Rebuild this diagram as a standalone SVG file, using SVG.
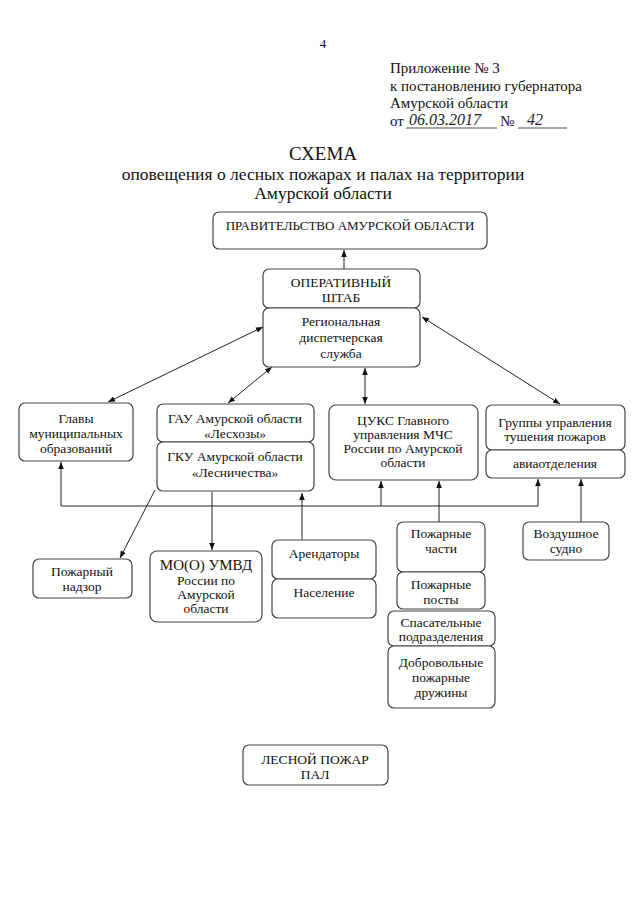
<svg xmlns="http://www.w3.org/2000/svg" width="640" height="905" viewBox="0 0 640 905">
<defs>
<marker id="ah" viewBox="0 0 10 10" refX="10" refY="5" markerWidth="7" markerHeight="7" orient="auto-start-reverse" markerUnits="userSpaceOnUse">
<path d="M0,1 L10,5 L0,9 z" fill="#111"/>
</marker>
<style>
.bx{fill:#fff;stroke:#444;stroke-width:1.2}
.t{font-family:"Liberation Serif","Times New Roman",serif;font-size:13.5px;fill:#111;text-anchor:middle}
.h{font-family:"Liberation Serif","Times New Roman",serif;font-size:15px;fill:#111}
.hw{font-family:"Liberation Serif",serif;font-style:italic;font-size:16px;fill:#222}
.ln{fill:none;stroke:#222;stroke-width:1}
.ar{fill:none;stroke:#222;stroke-width:1;marker-end:url(#ah)}
.ar2{fill:none;stroke:#222;stroke-width:1;marker-end:url(#ah);marker-start:url(#ah)}
</style>
</defs>
<rect width="640" height="905" fill="#fff"/>
<g id="header">
<text x="323" y="48" class="h" style="font-size:13px;text-anchor:middle">4</text>
<text x="390" y="73" class="h">Приложение № 3</text>
<text x="390" y="91" class="h">к постановлению губернатора</text>
<text x="390" y="108" class="h">Амурской области</text>
<text x="390" y="126" class="h">от</text>
<text x="409" y="125" class="hw">06.03.2017</text>
<line x1="406" y1="128" x2="497" y2="128" stroke="#222" stroke-width="0.8"/>
<text x="500" y="126" class="h">№</text>
<text x="527" y="125" class="hw">42</text>
<line x1="518" y1="128" x2="567" y2="128" stroke="#222" stroke-width="0.8"/>
</g>
<g id="title">
<text x="323" y="160" class="t" style="font-size:19px">СХЕМА</text>
<text x="323" y="180" class="t" style="font-size:17.5px">оповещения о лесных пожарах и палах на территории</text>
<text x="323" y="199" class="t" style="font-size:17.5px">Амурской области</text>
</g>
<g id="connectors">
<line class="ar" x1="344" y1="269" x2="344" y2="250"/>
<line class="ar2" x1="108" y1="402" x2="263" y2="327"/>
<line class="ar2" x1="228" y1="403" x2="272" y2="367"/>
<line class="ar2" x1="365" y1="404" x2="365" y2="368"/>
<line class="ar2" x1="560" y1="404" x2="422" y2="317"/>
<polyline class="ln" points="61,506 538,506"/>
<line class="ar" x1="61" y1="506" x2="61" y2="462"/>
<line class="ar" x1="381" y1="506" x2="381" y2="481"/>
<line class="ar" x1="538" y1="506" x2="538" y2="479"/>
<line class="ar" x1="302" y1="540" x2="302" y2="493"/>
<line class="ar" x1="212" y1="492" x2="212" y2="550"/>
<line class="ar" x1="155" y1="490" x2="120" y2="558"/>
<line class="ar" x1="439" y1="522" x2="439" y2="481"/>
<line class="ar" x1="581" y1="522" x2="581" y2="479"/>
</g>
<g id="n-gov"><rect class="bx" x="213" y="212" width="274" height="37" rx="6"/><text x="350" y="230" class="t" style="font-size:13px">ПРАВИТЕЛЬСТВО АМУРСКОЙ ОБЛАСТИ</text></g>
<g id="n-shtab"><rect class="bx" x="263" y="269" width="157" height="39" rx="6"/><text x="341" y="287" class="t">ОПЕРАТИВНЫЙ</text><text x="341" y="302" class="t">ШТАБ</text></g>
<g id="n-rds"><rect class="bx" x="263" y="308" width="157" height="59" rx="6"/><text x="341" y="326" class="t">Региональная</text><text x="341" y="342" class="t">диспетчерская</text><text x="341" y="358" class="t">служба</text></g>
<g id="n-glavy"><rect class="bx" x="19" y="403" width="114" height="58" rx="6"/><text x="76" y="423" class="t">Главы</text><text x="76" y="438" class="t">муниципальных</text><text x="76" y="453" class="t">образований</text></g>
<g id="n-gau"><rect class="bx" x="157" y="404" width="157" height="38" rx="6"/><text x="235" y="423" class="t">ГАУ Амурской области</text><text x="235" y="438" class="t">«Лесхозы»</text></g>
<g id="n-gku"><rect class="bx" x="157" y="442" width="157" height="49" rx="6"/><text x="235" y="461" class="t">ГКУ Амурской области</text><text x="235" y="477" class="t">«Лесничества»</text></g>
<g id="n-tsuks"><rect class="bx" x="329" y="405" width="149" height="75" rx="7"/><text x="403" y="425" class="t">ЦУКС Главного</text><text x="403" y="439" class="t">управления МЧС</text><text x="403" y="453" class="t">России по Амурской</text><text x="403" y="467" class="t">области</text></g>
<g id="n-gruppy"><rect class="bx" x="486" y="405" width="139" height="45" rx="6"/><text x="555" y="427" class="t">Группы управления</text><text x="555" y="441" class="t">тушения пожаров</text></g>
<g id="n-avia"><rect class="bx" x="486" y="450" width="139" height="28" rx="6"/><text x="555" y="468" class="t">авиаотделения</text></g>
<g id="n-nadzor"><rect class="bx" x="33" y="559" width="99" height="39" rx="6"/><text x="82" y="576" class="t">Пожарный</text><text x="82" y="591" class="t">надзор</text></g>
<g id="n-umvd"><rect class="bx" x="150" y="551" width="112" height="71" rx="7"/><text x="206" y="570" class="t" style="font-size:15px">МО(О) УМВД</text><text x="206" y="585" class="t">России по</text><text x="206" y="599" class="t">Амурской</text><text x="206" y="613" class="t">области</text></g>
<g id="n-arend"><rect class="bx" x="272" y="540" width="104" height="39" rx="6"/><text x="324" y="558" class="t">Арендаторы</text></g>
<g id="n-nasel"><rect class="bx" x="272" y="579" width="104" height="39" rx="6"/><text x="324" y="597" class="t">Население</text></g>
<g id="n-chasti"><rect class="bx" x="397" y="522" width="88" height="50" rx="6"/><text x="441" y="538" class="t">Пожарные</text><text x="441" y="553" class="t">части</text></g>
<g id="n-posty"><rect class="bx" x="397" y="572" width="88" height="37" rx="6"/><text x="441" y="589" class="t">Пожарные</text><text x="441" y="604" class="t">посты</text></g>
<g id="n-spas"><rect class="bx" x="388" y="611" width="107" height="35" rx="6"/><text x="441" y="627" class="t">Спасательные</text><text x="441" y="641" class="t">подразделения</text></g>
<g id="n-dpd"><rect class="bx" x="388" y="646" width="107" height="62" rx="6"/><text x="441" y="667" class="t">Добровольные</text><text x="441" y="682" class="t">пожарные</text><text x="441" y="697" class="t">дружины</text></g>
<g id="n-vs"><rect class="bx" x="523" y="522" width="86" height="38" rx="6"/><text x="566" y="538" class="t">Воздушное</text><text x="566" y="553" class="t">судно</text></g>
<g id="n-pozhar"><rect class="bx" x="243" y="745" width="145" height="40" rx="6"/><text x="315" y="764" class="t">ЛЕСНОЙ ПОЖАР</text><text x="315" y="779" class="t">ПАЛ</text></g>
</svg>
